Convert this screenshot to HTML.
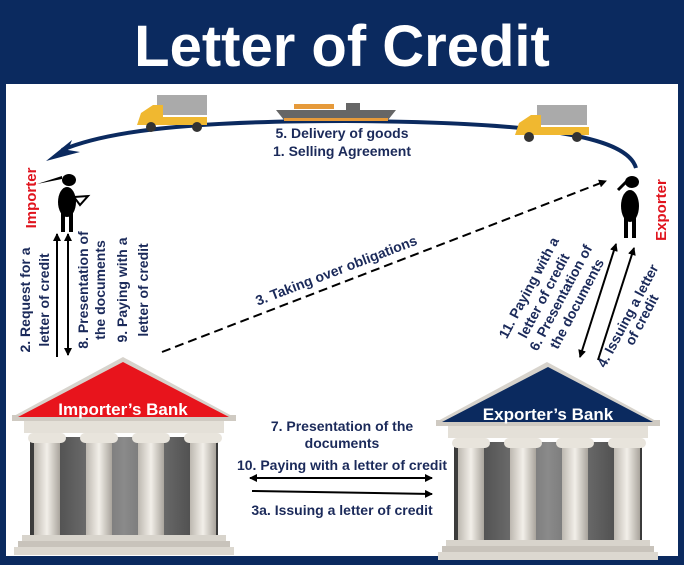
<!DOCTYPE html><html><head><style>body{margin:0;background:#fff}svg{display:block}text{font-family:"Liberation Sans",sans-serif;font-weight:bold}</style></head><body>
<svg width="684" height="565" viewBox="0 0 684 565" xmlns="http://www.w3.org/2000/svg">
<defs>
<linearGradient id="col" x1="0" x2="1"><stop offset="0" stop-color="#bdb8b0"/><stop offset=".5" stop-color="#f2efe9"/><stop offset="1" stop-color="#a9a49c"/></linearGradient>
<linearGradient id="bg" x1="0" x2="1"><stop offset="0" stop-color="#3a3a3a"/><stop offset=".5" stop-color="#8a8a8a"/><stop offset="1" stop-color="#3a3a3a"/></linearGradient>
<marker id="ah" markerWidth="8" markerHeight="8" refX="7" refY="4" orient="auto" markerUnits="userSpaceOnUse"><path d="M0,0 L8,4 L0,8z" fill="#000"/></marker>
<marker id="as" markerWidth="8" markerHeight="8" refX="1" refY="4" orient="auto" markerUnits="userSpaceOnUse"><path d="M8,0 L0,4 L8,8z" fill="#000"/></marker>
<g id="bank">
<path d="M0,60 L111,0 L222,60z" fill="#d7d3cc"/>
<rect x="0" y="58" width="224" height="6" fill="#cfcac2"/>
<rect x="12" y="64" width="200" height="12" fill="#e4e0d8"/>
<rect x="18" y="80" width="188" height="100" fill="url(#bg)"/>
<g fill="url(#col)"><rect x="22" y="82" width="26" height="100"/><rect x="74" y="82" width="26" height="100"/><rect x="126" y="82" width="26" height="100"/><rect x="178" y="82" width="26" height="100"/></g>
<g fill="#e8e4dc"><rect x="16" y="76" width="38" height="10" rx="5"/><rect x="68" y="76" width="38" height="10" rx="5"/><rect x="120" y="76" width="38" height="10" rx="5"/><rect x="172" y="76" width="38" height="10" rx="5"/></g>
<rect x="10" y="178" width="204" height="6" fill="#d8d4cc"/><rect x="6" y="184" width="212" height="6" fill="#c8c3bb"/><rect x="2" y="190" width="220" height="8" fill="#dcd8d0"/>
</g>
</defs>
<rect width="684" height="565" fill="#0b2a5f"/>
<rect x="6" y="84" width="672" height="472" fill="#fff"/>
<text x="342" y="66" text-anchor="middle" font-size="58" fill="#fff">Letter of Credit</text>
<path d="M636,168 C628,140 560,122 345,121 C170,121 100,134 62,150" fill="none" stroke="#0b2a5f" stroke-width="4"/>
<path d="M46,161 L72,140 L68,150 L80,152z" fill="#0b2a5f"/>
<g transform="translate(137,95)"><rect x="20" y="0" width="50" height="20" fill="#aaa"/><path d="M0,30 L4,18 L16,10 L26,10 L26,22 L70,22 L70,30z" fill="#f0b830"/><circle cx="14" cy="32" r="5" fill="#333"/><circle cx="60" cy="32" r="5" fill="#333"/></g>
<g transform="translate(515,105)"><rect x="22" y="0" width="50" height="20" fill="#aaa"/><path d="M0,30 L4,18 L16,10 L26,10 L26,22 L74,22 L74,30z" fill="#f0b830"/><circle cx="14" cy="32" r="5" fill="#333"/><circle cx="62" cy="32" r="5" fill="#333"/></g>
<g transform="translate(276,100)"><rect x="18" y="4" width="40" height="5" fill="#e69a3a"/><rect x="70" y="3" width="14" height="8" fill="#666"/><path d="M0,10 L120,10 L112,20 L8,20z" fill="#666"/><rect x="8" y="18" width="104" height="3" fill="#e69a3a"/></g>
<text x="342" y="138" text-anchor="middle" font-size="14" fill="#1b2a5a">5. Delivery of goods</text>
<text x="342" y="156" text-anchor="middle" font-size="14" fill="#1b2a5a">1. Selling Agreement</text>
<g fill="#000"><ellipse cx="69" cy="180" rx="7" ry="6"/><ellipse cx="67" cy="202" rx="9" ry="15"/><rect x="61" y="212" width="4" height="20"/><rect x="69" y="212" width="4" height="20"/><path d="M37,184 L62,176 L62,179z" /><path d="M74,197 L88,196 L80,205z" fill="none" stroke="#000" stroke-width="2"/></g>
<g fill="#000"><ellipse cx="632" cy="182" rx="7" ry="6"/><ellipse cx="630" cy="206" rx="9" ry="16"/><rect x="624" y="218" width="4" height="20"/><rect x="632" y="218" width="4" height="20"/><path d="M618,190 L628,180" stroke="#000" stroke-width="3"/></g>
<text transform="translate(36,198) rotate(-90)" text-anchor="middle" font-size="15" fill="#e0141e">Importer</text>
<text transform="translate(666,210) rotate(-90)" text-anchor="middle" font-size="15" fill="#e0141e">Exporter</text>
<g fill="#1b2a5a" font-size="14" text-anchor="middle">
<text transform="translate(30,300) rotate(-90)">2. Request for a</text>
<text transform="translate(49,300) rotate(-90)">letter of credit</text>
<text transform="translate(88,290) rotate(-90)">8. Presentation of</text>
<text transform="translate(105,290) rotate(-90)">the documents</text>
<text transform="translate(127,290) rotate(-90)">9. Paying with a</text>
<text transform="translate(148,290) rotate(-90)">letter of credit</text>
<text transform="translate(533,290) rotate(-62)">11. Paying with a</text>
<text transform="translate(548,298) rotate(-62)">letter of credit</text>
<text transform="translate(565,300) rotate(-62)">6. Presentation of</text>
<text transform="translate(581,306) rotate(-62)">the documents</text>
<text transform="translate(632,318) rotate(-62)">4. Issuing a letter</text>
<text transform="translate(646,322) rotate(-62)">of credit</text>
<text transform="translate(338,275) rotate(-21)">3. Taking over obligations</text>
<text x="342" y="431">7. Presentation of the</text>
<text x="342" y="448">documents</text>
<text x="342" y="470">10. Paying with a letter of credit</text>
<text x="342" y="515">3a. Issuing a letter of credit</text>
</g>
<g stroke="#000" stroke-width="2" fill="none">
<line x1="57" y1="357" x2="57" y2="234" marker-end="url(#ah)"/>
<line x1="68" y1="355" x2="68" y2="234" marker-end="url(#ah)" marker-start="url(#as)"/>
<line x1="580" y1="357" x2="616" y2="244" marker-end="url(#ah)" marker-start="url(#as)"/>
<line x1="598" y1="360" x2="634" y2="248" marker-end="url(#ah)"/>
<line x1="162" y1="352" x2="606" y2="181" stroke-dasharray="9,5" marker-end="url(#ah)"/>
<line x1="250" y1="478" x2="432" y2="478" marker-end="url(#ah)" marker-start="url(#as)"/>
<line x1="252" y1="491" x2="432" y2="494" marker-end="url(#ah)"/>
</g>
<use href="#bank" x="12" y="357"/>
<use href="#bank" x="436" y="362"/>
<path d="M18,417 L123,362 L229,417z" fill="#e8141c"/>
<path d="M442,422 L548,367 L653,422z" fill="#0b2a5f"/>
<text x="123" y="415" text-anchor="middle" font-size="17" fill="#fff">Importer’s Bank</text>
<text x="548" y="420" text-anchor="middle" font-size="17" fill="#fff">Exporter’s Bank</text>
</svg>
</body></html>
